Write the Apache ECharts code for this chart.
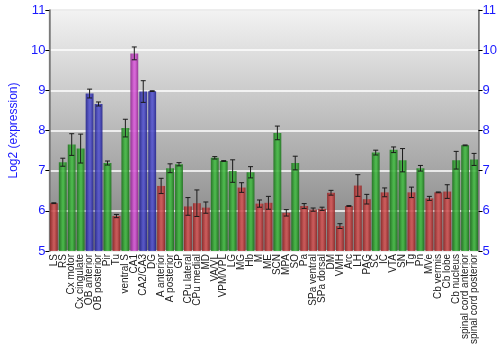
<!DOCTYPE html>
<html><head><meta charset="utf-8">
<script src="https://cdn.jsdelivr.net/npm/echarts@6/dist/echarts.min.js"></script>
<style>html,body{margin:0;padding:0;background:#fff}#c{width:500px;height:350px}</style>
</head><body><div id="c"></div>
<script>
var categories = ["LS","RS","Cx motor","Cx cingulate","OB anterior","OB posterior","Pir","Tu","ventral S","CA1","CA2/CA3","DG","A anterior","A posterior","GP","CPu lateral","CPu medial","MD","VA/VL","VPM/VPL","LG","MG","Hb","M","ME","SCN","MPA","SO","Pa","SPa ventral","SPa dorsal","DM","VMH","Arc","LH","PAG","SC","IC","VTA","SN","Tg","Pn","MVe","Cb vermis","Cb lobe","Cb nucleus","spinal cord anterior","spinal cord posterior"];
var values = [6.19,7.21,7.65,7.55,8.92,8.66,7.19,5.87,8.06,9.92,8.97,8.98,6.62,7.06,7.16,6.11,6.19,6.08,7.32,7.24,6.99,6.58,6.96,6.18,6.20,7.94,5.95,7.19,6.12,6.03,6.05,6.45,5.62,6.12,6.63,6.29,7.45,6.46,7.52,7.26,6.46,7.06,6.31,6.46,6.48,7.26,7.63,7.28];
var errors = [0.01,0.10,0.27,0.36,0.11,0.05,0.05,0.04,0.22,0.16,0.27,0.01,0.19,0.11,0.04,0.22,0.33,0.14,0.03,0.01,0.28,0.12,0.14,0.09,0.16,0.17,0.08,0.17,0.06,0.04,0.04,0.06,0.06,0.01,0.27,0.12,0.06,0.11,0.07,0.29,0.13,0.07,0.05,0.01,0.17,0.22,0.01,0.15];
var colorClass = ["r","g","g","g","b","b","g","r","g","m","b","b","r","g","g","r","r","r","g","g","g","r","g","r","r","g","r","g","r","r","r","r","r","r","r","r","g","r","g","g","r","g","r","r","r","g","g","g"];
var yTicks = [5,6,7,8,9,10,11];

var palette = {
  r: ['#8e2222','#cf5252','#8e2222'],
  g: ['#187018','#40b840','#187018'],
  b: ['#1e1e88','#5050cc','#1e1e88'],
  m: ['#8e268e','#d858d8','#8e268e']
};
function grad(cls){
  var p = palette[cls];
  return new echarts.graphic.LinearGradient(0,0,1,0,[
    {offset:0,color:p[0]},{offset:0.45,color:p[1]},{offset:0.6,color:p[1]},{offset:1,color:p[2]}
  ]);
}
var barData = values.map(function(v,i){
  return {value:v, itemStyle:{color:grad(colorClass[i]), opacity:0.88}};
});
var errData = values.map(function(v,i){ return [i, v-errors[i], v+errors[i]]; });

var chart = echarts.init(document.getElementById('c'), null, {renderer:'canvas'});
var font = 'Liberation Sans, Arial, sans-serif';
var yAxisBase = {
  type:'value', min:yTicks[0], max:yTicks[yTicks.length-1], interval:1,
  axisLine:{show:true, lineStyle:{color:'#777', width:1.5}},
  axisTick:{show:true, length:4, lineStyle:{color:'#000'}},
  axisLabel:{color:'#1a1aff', fontSize:13, fontFamily:font, margin:4}
};
chart.setOption({
  animation:false,
  grid:{left:34, right:21, top:10, bottom:99, show:true,
    borderColor:'#777', borderWidth:1,
    backgroundColor:new echarts.graphic.LinearGradient(0,0,0,1,[
      {offset:0,color:'#f3f3f3'},{offset:1,color:'#7e7e7e'}])},
  xAxis:{type:'category', data:categories,
    axisLine:{show:false}, axisTick:{show:false},
    axisLabel:{interval:0, rotate:90, fontSize:10, color:'#222', fontFamily:font, margin:3}},
  yAxis:[
    Object.assign({}, yAxisBase, {position:'left', name:'Log2 (expression)', nameLocation:'middle', nameGap:25,
      nameTextStyle:{color:'#1a1aff', fontSize:12, fontFamily:font},
      splitLine:{show:true, lineStyle:{color:'#ffffff', width:1.5}}}),
    Object.assign({}, yAxisBase, {position:'right', splitLine:{show:false}})
  ],
  series:[
    {type:'bar', data:barData, barCategoryGap:'12%', z:2},
    {type:'custom', data:errData, z:3,
     renderItem:function(params, api){
       var x = api.value(0);
       var lo = api.coord([x, api.value(1)]);
       var hi = api.coord([x, api.value(2)]);
       var cx = lo[0], h = 2.5;
       var st = {stroke:'#1a1a1a', lineWidth:1};
       return {type:'group', children:[
         {type:'line', shape:{x1:cx,y1:lo[1],x2:cx,y2:hi[1]}, style:st},
         {type:'line', shape:{x1:cx-h,y1:lo[1],x2:cx+h,y2:lo[1]}, style:st},
         {type:'line', shape:{x1:cx-h,y1:hi[1],x2:cx+h,y2:hi[1]}, style:st}
       ]};
     }}
  ]
});
</script></body></html>
